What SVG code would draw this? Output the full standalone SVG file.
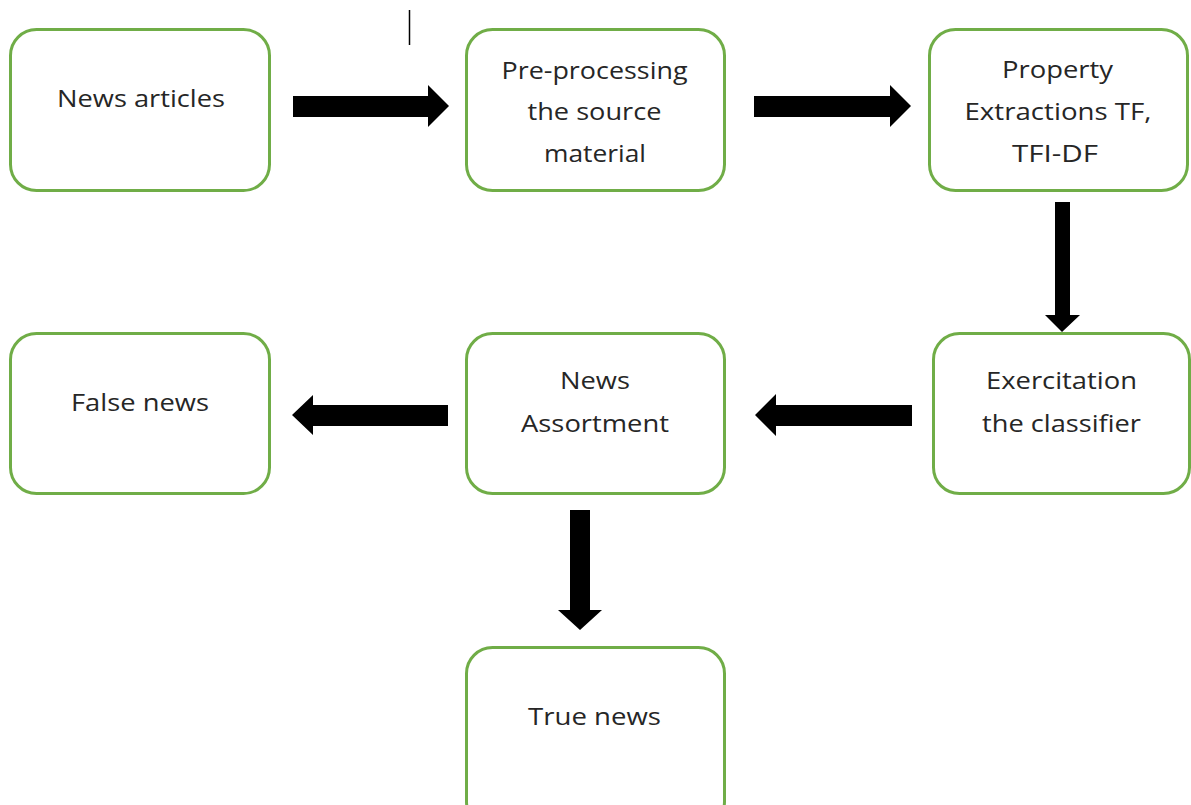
<svg xmlns="http://www.w3.org/2000/svg" width="1191" height="805" viewBox="0 0 1191 805">
<style>
.box{fill:#ffffff;stroke:#70AD47;stroke-width:3}
.t{font-family:"Open Sans","Liberation Sans",sans-serif;font-size:24px;fill:#262626;text-anchor:middle}
.arr{fill:#000000}
</style>
<rect width="1191" height="805" fill="#ffffff"/>
<line x1="409.5" y1="10" x2="409.5" y2="45" stroke="#000" stroke-width="1.5"/>
<g id="n1"><rect class="box" x="10.5" y="29.5" width="259" height="161" rx="26"/><text class="t" x="141" y="107" textLength="168" lengthAdjust="spacingAndGlyphs">News articles</text></g>
<g id="n2"><rect class="box" x="466.5" y="29.5" width="258" height="161" rx="26"/><text class="t" x="594.5" y="79" textLength="186" lengthAdjust="spacingAndGlyphs">Pre-processing</text><text class="t" x="594.5" y="120" textLength="134" lengthAdjust="spacingAndGlyphs">the source</text><text class="t" x="595" y="162" textLength="102" lengthAdjust="spacingAndGlyphs">material</text></g>
<g id="n3"><rect class="box" x="929.5" y="29.5" width="258" height="161" rx="26"/><text class="t" x="1057.5" y="78" textLength="111" lengthAdjust="spacingAndGlyphs">Property</text><text class="t" x="1058" y="120" textLength="187" lengthAdjust="spacingAndGlyphs">Extractions TF,</text><text class="t" x="1055" y="162" textLength="86" lengthAdjust="spacingAndGlyphs">TFI-DF</text></g>
<g id="n4"><rect class="box" x="933.5" y="333.5" width="256" height="160" rx="26"/><text class="t" x="1061.5" y="389" textLength="151" lengthAdjust="spacingAndGlyphs">Exercitation</text><text class="t" x="1061.5" y="432" textLength="159" lengthAdjust="spacingAndGlyphs">the classifier</text></g>
<g id="n5"><rect class="box" x="466.5" y="333.5" width="258" height="160" rx="26"/><text class="t" x="595" y="389" textLength="70" lengthAdjust="spacingAndGlyphs">News</text><text class="t" x="595" y="432" textLength="148" lengthAdjust="spacingAndGlyphs">Assortment</text></g>
<g id="n6"><rect class="box" x="10.5" y="333.5" width="259" height="160" rx="26"/><text class="t" x="140" y="411" textLength="138" lengthAdjust="spacingAndGlyphs">False news</text></g>
<g id="n7"><rect class="box" x="466.5" y="647.5" width="258" height="180" rx="26"/><text class="t" x="594.5" y="725" textLength="133" lengthAdjust="spacingAndGlyphs">True news</text></g>
<g id="connectors">
<polygon class="arr" points="293,96 428,96 428,85 449,106 428,127 428,117 293,117"/>
<polygon class="arr" points="754,96 890,96 890,85 911,106 890,127 890,117 754,117"/>
<polygon class="arr" points="1055,202 1070,202 1070,315 1080,315 1062,332 1045,315 1055,315"/>
<polygon class="arr" points="912,405 776,405 776,394 755,415 776,436 776,426 912,426"/>
<polygon class="arr" points="448,405 313,405 313,395 292,415 313,435 313,426 448,426"/>
<polygon class="arr" points="570,510 590,510 590,610 602,610 580,630 558,610 570,610"/>
</g>
</svg>
